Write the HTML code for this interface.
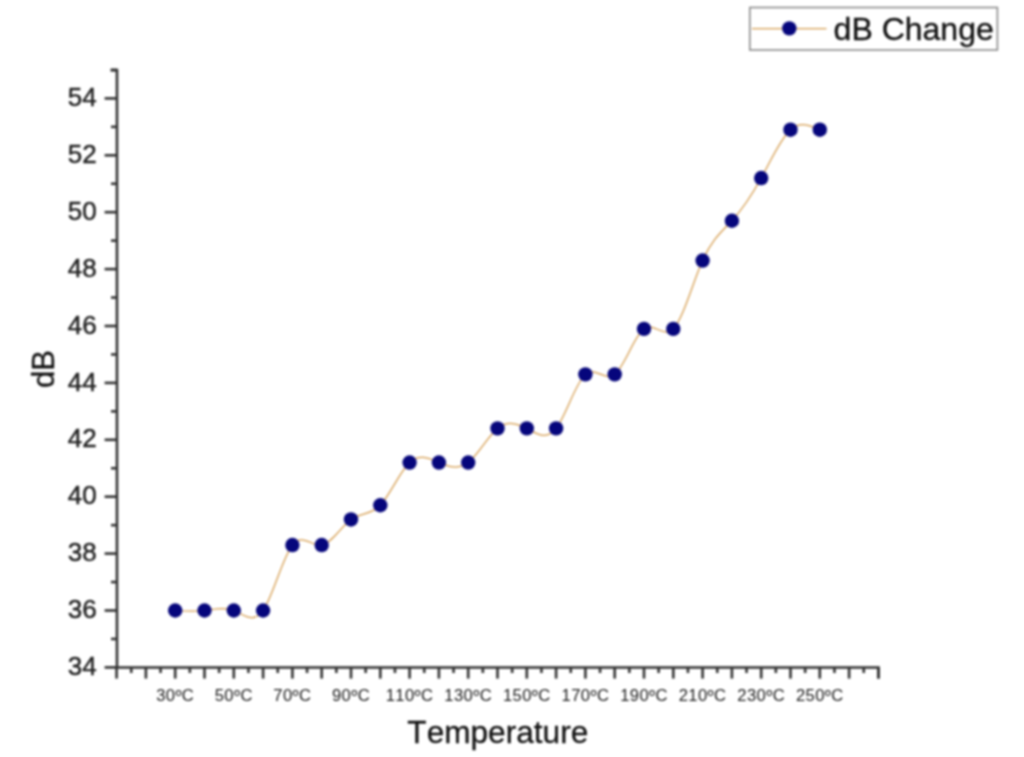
<!DOCTYPE html>
<html><head><meta charset="utf-8"><style>
html,body{margin:0;padding:0;background:#fff;width:1024px;height:757px;overflow:hidden}
svg{display:block;filter:blur(0.8px)}
text{font-family:"Liberation Sans",sans-serif;font-kerning:none}
</style></head><body>
<svg width="1024" height="757" viewBox="0 0 1024 757">
<rect width="1024" height="757" fill="#fff"/>
<g stroke="#333" stroke-width="2.6" fill="none" stroke-linecap="butt">
<path d="M110.5,70.1 H117 V667.5 H878.5 V678.6"/>
<line x1="104.6" y1="667.40" x2="117" y2="667.40"/><line x1="111" y1="638.95" x2="117" y2="638.95"/><line x1="104.6" y1="610.50" x2="117" y2="610.50"/><line x1="111" y1="582.05" x2="117" y2="582.05"/><line x1="104.6" y1="553.60" x2="117" y2="553.60"/><line x1="111" y1="525.15" x2="117" y2="525.15"/><line x1="104.6" y1="496.70" x2="117" y2="496.70"/><line x1="111" y1="468.25" x2="117" y2="468.25"/><line x1="104.6" y1="439.80" x2="117" y2="439.80"/><line x1="111" y1="411.35" x2="117" y2="411.35"/><line x1="104.6" y1="382.90" x2="117" y2="382.90"/><line x1="111" y1="354.45" x2="117" y2="354.45"/><line x1="104.6" y1="326.00" x2="117" y2="326.00"/><line x1="111" y1="297.55" x2="117" y2="297.55"/><line x1="104.6" y1="269.10" x2="117" y2="269.10"/><line x1="111" y1="240.65" x2="117" y2="240.65"/><line x1="104.6" y1="212.20" x2="117" y2="212.20"/><line x1="111" y1="183.75" x2="117" y2="183.75"/><line x1="104.6" y1="155.30" x2="117" y2="155.30"/><line x1="111" y1="126.85" x2="117" y2="126.85"/><line x1="104.6" y1="98.40" x2="117" y2="98.40"/><line x1="111" y1="69.95" x2="117" y2="69.95"/>
<line x1="116.60" y1="667.5" x2="116.60" y2="678.6"/><line x1="131.25" y1="667.5" x2="131.25" y2="673"/><line x1="145.90" y1="667.5" x2="145.90" y2="678.6"/><line x1="160.55" y1="667.5" x2="160.55" y2="673"/><line x1="175.20" y1="667.5" x2="175.20" y2="678.6"/><line x1="189.85" y1="667.5" x2="189.85" y2="673"/><line x1="204.50" y1="667.5" x2="204.50" y2="678.6"/><line x1="219.15" y1="667.5" x2="219.15" y2="673"/><line x1="233.80" y1="667.5" x2="233.80" y2="678.6"/><line x1="248.45" y1="667.5" x2="248.45" y2="673"/><line x1="263.10" y1="667.5" x2="263.10" y2="678.6"/><line x1="277.75" y1="667.5" x2="277.75" y2="673"/><line x1="292.40" y1="667.5" x2="292.40" y2="678.6"/><line x1="307.05" y1="667.5" x2="307.05" y2="673"/><line x1="321.70" y1="667.5" x2="321.70" y2="678.6"/><line x1="336.35" y1="667.5" x2="336.35" y2="673"/><line x1="351.00" y1="667.5" x2="351.00" y2="678.6"/><line x1="365.65" y1="667.5" x2="365.65" y2="673"/><line x1="380.30" y1="667.5" x2="380.30" y2="678.6"/><line x1="394.95" y1="667.5" x2="394.95" y2="673"/><line x1="409.60" y1="667.5" x2="409.60" y2="678.6"/><line x1="424.25" y1="667.5" x2="424.25" y2="673"/><line x1="438.90" y1="667.5" x2="438.90" y2="678.6"/><line x1="453.55" y1="667.5" x2="453.55" y2="673"/><line x1="468.20" y1="667.5" x2="468.20" y2="678.6"/><line x1="482.85" y1="667.5" x2="482.85" y2="673"/><line x1="497.50" y1="667.5" x2="497.50" y2="678.6"/><line x1="512.15" y1="667.5" x2="512.15" y2="673"/><line x1="526.80" y1="667.5" x2="526.80" y2="678.6"/><line x1="541.45" y1="667.5" x2="541.45" y2="673"/><line x1="556.10" y1="667.5" x2="556.10" y2="678.6"/><line x1="570.75" y1="667.5" x2="570.75" y2="673"/><line x1="585.40" y1="667.5" x2="585.40" y2="678.6"/><line x1="600.05" y1="667.5" x2="600.05" y2="673"/><line x1="614.70" y1="667.5" x2="614.70" y2="678.6"/><line x1="629.35" y1="667.5" x2="629.35" y2="673"/><line x1="644.00" y1="667.5" x2="644.00" y2="678.6"/><line x1="658.65" y1="667.5" x2="658.65" y2="673"/><line x1="673.30" y1="667.5" x2="673.30" y2="678.6"/><line x1="687.95" y1="667.5" x2="687.95" y2="673"/><line x1="702.60" y1="667.5" x2="702.60" y2="678.6"/><line x1="717.25" y1="667.5" x2="717.25" y2="673"/><line x1="731.90" y1="667.5" x2="731.90" y2="678.6"/><line x1="746.55" y1="667.5" x2="746.55" y2="673"/><line x1="761.20" y1="667.5" x2="761.20" y2="678.6"/><line x1="775.85" y1="667.5" x2="775.85" y2="673"/><line x1="790.50" y1="667.5" x2="790.50" y2="678.6"/><line x1="805.15" y1="667.5" x2="805.15" y2="673"/><line x1="819.80" y1="667.5" x2="819.80" y2="678.6"/><line x1="834.45" y1="667.5" x2="834.45" y2="673"/><line x1="849.10" y1="667.5" x2="849.10" y2="678.6"/><line x1="863.75" y1="667.5" x2="863.75" y2="673"/><line x1="878.40" y1="667.5" x2="878.40" y2="678.6"/>
</g>
<g fill="#222" stroke="#222" stroke-width="0.45" font-size="26" text-anchor="end"><text x="96.6" y="675.00">34</text><text x="96.6" y="618.10">36</text><text x="96.6" y="561.20">38</text><text x="96.6" y="504.30">40</text><text x="96.6" y="447.40">42</text><text x="96.6" y="390.50">44</text><text x="96.6" y="333.60">46</text><text x="96.6" y="276.70">48</text><text x="96.6" y="219.80">50</text><text x="96.6" y="162.90">52</text><text x="96.6" y="106.00">54</text></g>
<g fill="#1a1a1a" font-size="16.6" text-anchor="middle" letter-spacing="0.4"><text x="175.20" y="700.8">30ºC</text><text x="233.80" y="700.8">50ºC</text><text x="292.40" y="700.8">70ºC</text><text x="351.00" y="700.8">90ºC</text><text x="409.60" y="700.8">110ºC</text><text x="468.20" y="700.8">130ºC</text><text x="526.80" y="700.8">150ºC</text><text x="585.40" y="700.8">170ºC</text><text x="644.00" y="700.8">190ºC</text><text x="702.60" y="700.8">210ºC</text><text x="761.20" y="700.8">230ºC</text><text x="819.80" y="700.8">250ºC</text></g>
<text x="497.8" y="742.8" font-size="31.6" fill="#111" stroke="#111" stroke-width="0.3" text-anchor="middle">Temperature</text>
<text transform="translate(54.4,369) rotate(-90)" font-size="31" fill="#111" stroke="#111" stroke-width="0.3" text-anchor="middle">dB</text>
<path d="M175.20,610.50 C184.97,611.05 194.73,611.59 204.50,610.50 C214.27,609.41 224.03,606.67 233.80,610.50 C243.57,614.33 253.33,624.71 263.10,610.50 C272.87,596.29 282.63,557.49 292.40,545.07 C302.17,532.64 311.93,546.60 321.70,545.07 C331.47,543.53 341.23,526.49 351.00,519.46 C360.77,512.43 370.53,515.41 380.30,505.23 C390.07,495.06 399.83,471.73 409.60,462.56 C419.37,453.39 429.13,458.37 438.90,462.56 C448.67,466.75 458.43,470.16 468.20,462.56 C477.97,454.96 487.73,436.34 497.50,428.42 C507.27,420.50 517.03,423.27 526.80,428.42 C536.57,433.57 546.33,441.10 556.10,428.42 C565.87,415.74 575.63,382.83 585.40,374.37 C595.17,365.90 604.93,381.87 614.70,374.37 C624.47,366.86 634.23,335.89 644.00,328.85 C653.77,321.80 663.53,338.68 673.30,328.85 C683.07,319.01 692.83,282.47 702.60,260.57 C712.37,238.66 722.13,231.41 731.90,220.73 C741.67,210.06 751.43,195.98 761.20,178.06 C770.97,160.14 780.73,138.39 790.50,129.70 C800.27,121.00 810.03,125.35 819.80,129.70" fill="none" stroke="#d49a4a" stroke-width="1.25"/>
<g fill="#06067c"><circle cx="175.20" cy="610.50" r="7.2"/><circle cx="204.50" cy="610.50" r="7.2"/><circle cx="233.80" cy="610.50" r="7.2"/><circle cx="263.10" cy="610.50" r="7.2"/><circle cx="292.40" cy="545.07" r="7.2"/><circle cx="321.70" cy="545.07" r="7.2"/><circle cx="351.00" cy="519.46" r="7.2"/><circle cx="380.30" cy="505.23" r="7.2"/><circle cx="409.60" cy="462.56" r="7.2"/><circle cx="438.90" cy="462.56" r="7.2"/><circle cx="468.20" cy="462.56" r="7.2"/><circle cx="497.50" cy="428.42" r="7.2"/><circle cx="526.80" cy="428.42" r="7.2"/><circle cx="556.10" cy="428.42" r="7.2"/><circle cx="585.40" cy="374.37" r="7.2"/><circle cx="614.70" cy="374.37" r="7.2"/><circle cx="644.00" cy="328.85" r="7.2"/><circle cx="673.30" cy="328.85" r="7.2"/><circle cx="702.60" cy="260.57" r="7.2"/><circle cx="731.90" cy="220.73" r="7.2"/><circle cx="761.20" cy="178.06" r="7.2"/><circle cx="790.50" cy="129.70" r="7.2"/><circle cx="819.80" cy="129.70" r="7.2"/></g>
<rect x="749.8" y="7.5" width="247.6" height="42.5" fill="#fff" stroke="#8a8a8a" stroke-width="1.6"/>
<line x1="752" y1="28.5" x2="826.5" y2="28.5" stroke="#d49a4a" stroke-width="1.25"/>
<circle cx="789.3" cy="28.4" r="7.2" fill="#06067c"/>
<text x="833.6" y="39.8" font-size="32" fill="#111" stroke="#111" stroke-width="0.35">dB Change</text>
</svg>
</body></html>
